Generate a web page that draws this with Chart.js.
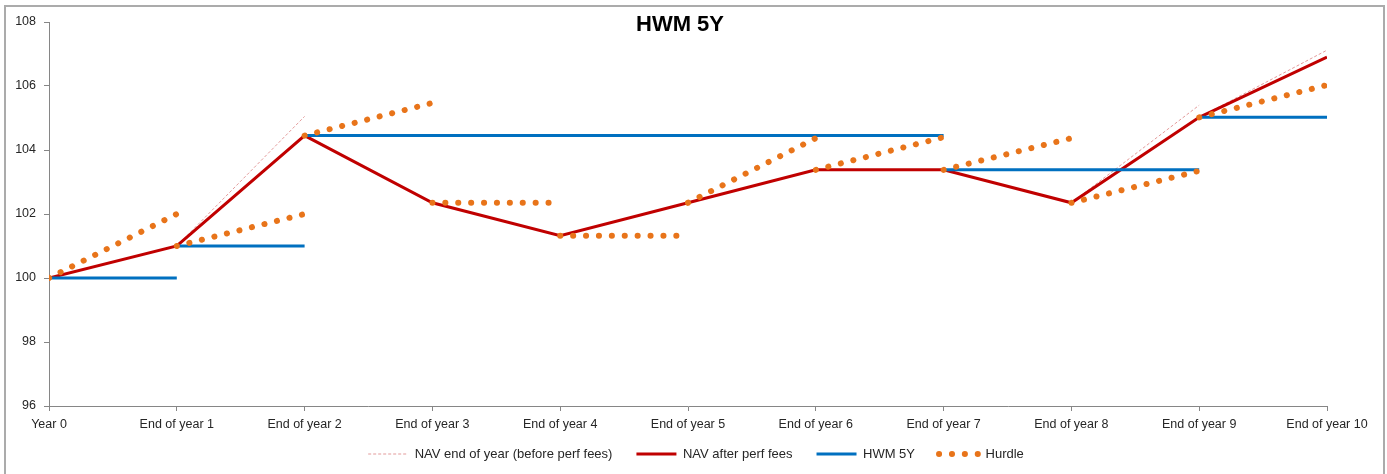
<!DOCTYPE html>
<html lang="en">
<head>
    <meta charset="UTF-8">
    <title>HWM 5Y</title>
    <script src="https://cdn.jsdelivr.net/npm/chart.js"></script>
    <style>
        body { margin: 0; overflow: hidden; background: #fff; }
        #wrap { position: relative; width: 1387px; height: 474px; }
        #frame {
            position: absolute; left: 4px; top: 5px; width: 1381px; height: 480px;
            border: 2px solid #ababab; box-sizing: border-box; pointer-events: none;
        }
    </style>
</head>
<body>
    <div id="wrap">
        <canvas id="myChart" width="1387" height="474"></canvas>
        <div id="frame"></div>
    </div>

    <script>
        const chartTitle = 'HWM 5Y';
        const years = ['Year 0', 'End of year 1', 'End of year 2', 'End of year 3', 'End of year 4',
            'End of year 5', 'End of year 6', 'End of year 7', 'End of year 8', 'End of year 9', 'End of year 10'];

        // NAV at each year end
        const navBeforeFees = [100, 101.0, 105.05, 102.35, 101.32, 102.35, 103.38, 103.38, 102.35, 105.4, 107.12];
        const navAfterFees = [100, 101.0, 104.45, 102.35, 101.32, 102.35, 103.38, 103.38, 102.35, 105.02, 106.9];

        // one value per year (Year i -> Year i+1)
        const hwm5y = [100, 101.0, 104.45, 104.45, 104.45, 104.45, 104.45, 103.38, 103.38, 105.02];
        const hurdleFrom = [100, 101.0, 104.45, 102.35, 101.32, 102.35, 103.38, 103.38, 102.35, 105.02];
        const hurdleTo = [102.0, 102.0, 105.47, 102.35, 101.32, 104.37, 104.4, 104.37, 103.35, 106.03];

        // each year drawn as its own piece, broken by a null point
        function segments(from, to) {
            const pts = [];
            for (let i = 0; i < from.length; i++) {
                pts.push({x: i, y: from[i]}, {x: i + 1, y: to[i]}, {x: i + 1, y: null});
            }
            return pts;
        }

        const titlePlugin = {
            id: 'chartTitle',
            beforeDraw(chart) {
                // x axis box is kept short so the legend sits close; let its labels overflow
                chart.scales.x.bottom = chart.height;
            },
            afterDraw(chart) {
                const ctx = chart.ctx;
                ctx.save();
                ctx.font = 'bold 22px "Liberation Sans"';
                ctx.fillStyle = '#000';
                ctx.textAlign = 'center';
                ctx.textBaseline = 'middle';
                ctx.fillText(chartTitle, 680, 25);
                ctx.restore();
            }
        };

        Chart.defaults.font.family = '"Liberation Sans", Arial, sans-serif';
        Chart.defaults.color = '#262626';

        const ctx = document.getElementById('myChart').getContext('2d');
        new Chart(ctx, {
            type: 'line',
            data: {
                datasets: [
                    {
                        label: 'NAV end of year (before perf fees)',
                        data: segments(navAfterFees.slice(0, 10), navBeforeFees.slice(1)),
                        borderColor: '#e39b9b',
                        borderWidth: 1,
                        borderDash: [3, 2],
                        order: 3
                    },
                    {
                        label: 'NAV after perf fees',
                        data: navAfterFees.map((v, i) => ({x: i, y: v})),
                        borderColor: '#c00000',
                        borderWidth: 3,
                        order: 2
                    },
                    {
                        label: 'HWM 5Y',
                        data: segments(hwm5y, hwm5y),
                        borderColor: '#0070c0',
                        borderWidth: 3,
                        order: 1
                    },
                    {
                        label: 'Hurdle',
                        data: segments(hurdleFrom, hurdleTo),
                        borderColor: '#e8741a',
                        borderWidth: 6,
                        borderDash: [0.1, 12.8],
                        borderCapStyle: 'round',
                        order: 0
                    }
                ]
            },
            options: {
                responsive: false,
                animation: false,
                devicePixelRatio: 1,
                spanGaps: false,
                elements: {
                    point: { radius: 0, hoverRadius: 0 },
                    line: { tension: 0, fill: false }
                },
                layout: { padding: { left: 5, right: 0, top: 22, bottom: 3.5 } },
                plugins: {
                    tooltip: { enabled: false },
                    legend: {
                        position: 'bottom',
                        labels: {
                            usePointStyle: true,
                            pointStyle: 'line',
                            pointStyleWidth: 40,
                            padding: 24,
                            font: { size: 13 },
                            sort: (a, b) => a.datasetIndex - b.datasetIndex,
                            generateLabels: (chart) => {
                                const items = Chart.defaults.plugins.legend.labels.generateLabels(chart);
                                items.forEach(item => {
                                    const ds = chart.data.datasets[item.datasetIndex];
                                    item.lineDash = ds.borderDash || [];
                                    item.lineCap = ds.borderCapStyle || 'butt';
                                    item.lineWidth = ds.borderWidth;
                                });
                                return items;
                            }
                        }
                    }
                },
                scales: {
                    x: {
                        type: 'linear',
                        min: 0,
                        max: 10,
                        grid: { drawOnChartArea: false, drawTicks: true, tickLength: 5, color: '#868686' },
                        border: { color: '#868686' },
                        ticks: {
                            stepSize: 1,
                            autoSkip: false,
                            maxRotation: 0,
                            padding: 6,
                            font: { size: 12.5 },
                            callback: (v) => years[v]
                        },
                        afterFit: (scale) => { scale.height = 17.5; }
                    },
                    y: {
                        min: 96,
                        max: 108,
                        grid: { drawOnChartArea: false, drawTicks: true, tickLength: 5, color: '#868686' },
                        border: { color: '#868686' },
                        ticks: { stepSize: 2, padding: 8, font: { size: 12.5 } },
                        afterFit: (scale) => { scale.width = 44; }
                    },
                    y2: {
                        position: 'right',
                        grid: { display: false },
                        border: { display: false },
                        ticks: { display: false },
                        afterFit: (scale) => { scale.width = 60; }
                    }
                }
            },
            plugins: [titlePlugin]
        });
    </script>
</body>
</html>
